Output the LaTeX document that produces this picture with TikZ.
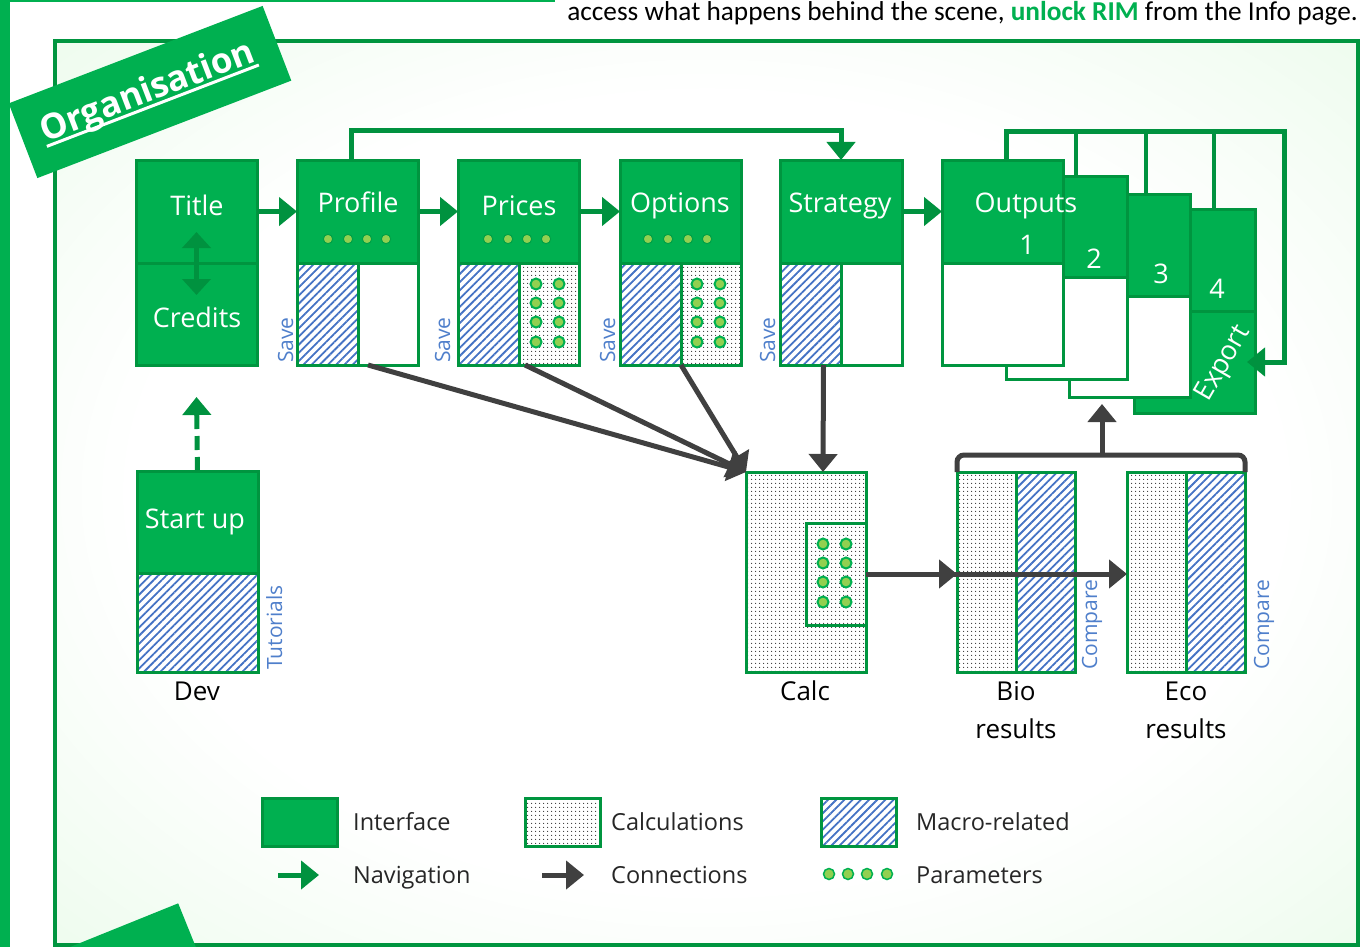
\documentclass[tikz,border=0pt]{standalone}
\usepackage{fontspec}
\setmainfont{Open Sans}
\newfontfamily\calib{Carlito}
\usetikzlibrary{arrows.meta,patterns.meta,calc}
\definecolor{gfill}{HTML}{00B050}
\definecolor{gline}{HTML}{00953F}
\definecolor{garrow}{HTML}{00923F}
\definecolor{cgray}{HTML}{404040}
\definecolor{hblue}{HTML}{4472C4}
\definecolor{tblue}{HTML}{4F7FCB}
\definecolor{pdot}{HTML}{92D050}
\definecolor{bgg}{HTML}{CCF5CC}
\definecolor{bgm}{HTML}{E6FAE6}
\definecolor{ltxt}{HTML}{262626}
\pgfdeclareradialshading{bgshade}{\pgfpoint{0bp}{0bp}}{color(0bp)=(white); color(22bp)=(white); color(42bp)=(bgm); color(58bp)=(bgg); color(75bp)=(bgg)}
\newcommand\myul[1]{\setbox0\hbox{#1}\rlap{\rule[-6pt]{\wd0}{3pt}}\box0}
\begin{document}
\begin{tikzpicture}[x=1pt,y=-1pt,
  bx/.style n args={4}{at={(#1,#2)},anchor=north west,minimum width={#3-#1},minimum height={#4-#2},inner sep=0pt,outer sep=0pt},
  gbox/.style={draw=gline,line width=3pt,fill=gfill},
  wbox/.style={draw=gline,line width=3pt,fill=white},
  hbox/.style={draw=gline,line width=3pt,preaction={fill=white},pattern={Lines[angle=45,distance=5.8pt,line width=1.8pt]},pattern color=hblue},
  dbox/.style={draw=gline,line width=3pt,preaction={fill=white},pattern={Dots[distance=4pt,radius=0.75pt]},pattern color=black!80},
  wlab/.style={text=white,font=\fontsize{27}{32}\selectfont,inner sep=0pt,anchor=base},
  blab/.style={text=black,font=\fontsize{26}{32}\selectfont,inner sep=0pt,anchor=base},
  vlab/.style={text=tblue,font=\fontsize{21}{24}\selectfont,inner sep=0pt,rotate=90,anchor=base west},
  legt/.style={text=ltxt,font=\fontsize{23.5}{28}\selectfont,inner sep=0pt,anchor=base west},
  nav/.style={draw=garrow,line width=5pt,-{Triangle[length=18pt,width=28pt]}},
  dnav/.style={draw=garrow,line width=5pt,{Triangle[length=16pt,width=28pt]}-{Triangle[length=16pt,width=28pt]}},
  dashnav/.style={nav,dash pattern=on 14pt off 7pt},
  navline/.style={draw=garrow,line width=4.5pt},
  conn/.style={draw=cgray,line width=5pt,-{Triangle[length=18pt,width=28pt]}},
  pd/.style={fill=pdot,draw=gline!60!gfill,line width=1pt},
  pdg/.style={fill=pdot,draw=gfill,line width=2pt}]
\clip (0,0) rectangle (1362,947);
\fill[white] (0,0) rectangle (1362,947);
% outer frame
\fill[gfill] (0,0) rectangle (10,947);
\fill[gfill] (0,0) rectangle (555,2.5);
\node[anchor=base east,inner sep=0pt,font=\calib\fontsize{27.3}{30}\selectfont] (toptext) at (1358,21)
  {access what happens behind the scene, {\bfseries\color{gfill}unlock RIM} from the Info page.};
% inner panel
\shadedraw[shading=bgshade,draw=gline,line width=4pt] (55,41) rectangle (1358,945);
% banners
\node[fill=gfill,rotate=21,minimum width=272,minimum height=80,inner sep=0pt] (orgban) at (150,92) {};
\node[rotate=21,text=white,inner sep=0pt,font=\bfseries\fontsize{35}{38}\selectfont] (orgtxt) at (148,93) {\myul{Organisation}};
\node[fill=gfill,rotate=22,minimum width=270,minimum height=80,inner sep=0pt] (ban2) at (68,991) {};
% Title / Credits
\node[gbox,bx={136}{160}{257}{263}] (title) {};
\node[gbox,bx={136}{263}{257}{365}] (credits) {};
% Profile
\node[gbox,bx={297}{160}{418}{263}] (prof) {};
\node[hbox,bx={297}{263}{358}{365}] (profh) {};
\node[wbox,bx={358}{263}{418}{365}] (profw) {};
% Prices
\node[gbox,bx={458}{160}{579}{263}] (pric) {};
\node[hbox,bx={458}{263}{519}{365}] (prich) {};
\node[dbox,bx={519}{263}{579}{365}] (pricd) {};
% Options
\node[gbox,bx={620}{160}{741}{263}] (opt) {};
\node[hbox,bx={620}{263}{681}{365}] (opth) {};
\node[dbox,bx={681}{263}{741}{365}] (optd) {};
% Strategy
\node[gbox,bx={780}{160}{902}{263}] (strat) {};
\node[hbox,bx={780}{263}{841}{365}] (strath) {};
\node[wbox,bx={841}{263}{902}{365}] (stratw) {};
% Outputs pages
\node[gbox,bx={1134}{209}{1255}{311}] (p4t) {};
\node[gbox,bx={1134}{311}{1255}{413}] (p4b) {};
\node[gbox,bx={1069}{194}{1190}{296}] (p3t) {};
\node[wbox,bx={1069}{296}{1190}{397}] (p3b) {};
\node[gbox,bx={1006}{176}{1127}{277}] (p2t) {};
\node[wbox,bx={1006}{277}{1127}{379}] (p2b) {};
\node[gbox,bx={942}{160}{1063}{263}] (p1t) {};
\node[wbox,bx={942}{263}{1063}{365}] (p1b) {};
% Dev
\node[gbox,bx={137}{471}{258}{573}] (startup) {};
\node[hbox,bx={137}{573}{258}{672}] (starth) {};
% Calc
\node[dbox,bx={746}{472}{866}{672}] (calc) {};
\node[dbox,bx={806}{523}{866}{625}] (calcin) {};
% Bio / Eco
\node[dbox,bx={957}{472}{1016}{672}] (biod) {};
\node[hbox,bx={1016}{472}{1075}{672}] (bioh) {};
\node[dbox,bx={1127}{472}{1186}{672}] (ecod) {};
\node[hbox,bx={1186}{472}{1245}{672}] (ecoh) {};
% parameter dots
\foreach \x in {328,348,367,386,488,508,527,546,648,668,688,707} \draw[pd] (\x,239) circle[radius=4.7pt];
\foreach \x in {536,559,697,720} \foreach \y in {284,303,322,342} \draw[pdg] (\x,\y) circle[radius=5.5pt];
\foreach \x in {823,846} \foreach \y in {544,563,582,602} \draw[pdg] (\x,\y) circle[radius=5.5pt];
% navigation
\draw[nav] (title.east) -- (prof.west);
\draw[nav] (prof.east) -- (pric.west);
\draw[nav] (pric.east) -- (opt.west);
\draw[nav] (strat.east) -- (p1t.west);
\coordinate (pst) at (600,131);
\draw[nav] ([xshift=-6pt]prof.north) |- (pst) -| (strat.north);
\draw[dnav] ([yshift=31pt]title.south) -- ([yshift=-32pt]title.south);
\draw[dashnav] (startup.north) -- ([yshift=-32pt]credits.south);
\coordinate (ofl) at (1006,132);
\coordinate (ofr) at (1284,132);
\coordinate (d2) at (1076,132);
\coordinate (d3) at (1146,132);
\coordinate (d4) at (1214,132);
\draw[navline] (d2) -- (d2 |- p2t.north);
\draw[navline] (d3) -- (d3 |- p3t.north);
\draw[navline] (d4) -- (d4 |- p4t.north);
\draw[nav] (ofl |- p1t.north) -- (ofl) -- (ofr) |- ([xshift=-8pt]p4b.east);
% connections
\draw[conn] ([xshift=10pt]profw.south west) -- (calc.north west);
\draw[conn] ([xshift=6pt]pricd.south west) -- (calc.north west);
\draw[conn] (optd.south west) -- (calc.north west);
\draw[conn] ([xshift=13pt]strath.south) -- ([xshift=17pt]calc.north);
\draw[conn] (calcin.east) -- (calcin.east -| ecod.west);
\draw[conn] (calcin.east) -- (calcin.east -| biod.west);
\coordinate (brl) at (957,455);
\coordinate (brr) at (1245,455);
\coordinate (brm) at (1102,455);
\coordinate (brtip) at (1102,404);
\draw[draw=cgray,line width=5pt,rounded corners=7pt] (biod.north west) -- (brl) -- (brr) -- (ecoh.north east);
\draw[conn] (brm) -- (brtip);
% white labels
\node[wlab] (ttitle) at (197,215) {Title};
\node[wlab] (tcred) at (197,327) {Credits};
\node[wlab] (tprof) at (358,212) {Profile};
\node[wlab] (tpric) at (519,215) {Prices};
\node[wlab] (topt) at (680,212) {Options};
\node[wlab] (tstrat) at (840,212) {Strategy};
\node[wlab] (tout) at (1026,212) {Outputs};
\node[wlab] (t1) at (1027,254) {1};
\node[wlab] (t2) at (1094,268) {2};
\node[wlab] (t3) at (1161,283) {3};
\node[wlab] (t4) at (1217,298) {4};
\node[wlab,anchor=center,rotate=60] (texp) at (1224,364) {Export};
\node[wlab] (tstart) at (195,528) {Start up};
% black labels
\node[blab] (ldev) at (197,700) {Dev};
\node[blab] (lcalc) at (805,700) {Calc};
\node[blab] (lbio) at (1016,700) {Bio};
\node[blab] (lbio2) at (1016,738) {results};
\node[blab] (leco) at (1186,700) {Eco};
\node[blab] (leco2) at (1186,738) {results};
% blue vertical labels
\node[vlab] (s1) at (293,363) {Save};
\node[vlab] (s2) at (450,363) {Save};
\node[vlab] (s3) at (615,363) {Save};
\node[vlab] (s4) at (775,363) {Save};
\node[vlab] (tut) at (282,670) {Tutorials};
\node[vlab] (cmp1) at (1097,670) {Compare};
\node[vlab] (cmp2) at (1269,670) {Compare};
% legend
\node[gbox,bx={262}{798}{337}{846}] (lg1) {};
\node[dbox,bx={525}{798}{600}{846}] (lg2) {};
\node[hbox,bx={821}{798}{896}{846}] (lg3) {};
\node[legt] (lt1) at (353,830) {Interface};
\node[legt] (lt2) at (611,830) {Calculations};
\node[legt] (lt3) at (916,830) {Macro-related};
\node[legt] (lt4) at (353,883) {Navigation};
\node[legt] (lt5) at (611,883) {Connections};
\node[legt] (lt6) at (916,883) {Parameters};
\coordinate (ln1) at (278,875);
\coordinate (ln2) at (319,875);
\coordinate (lc1) at (542,875);
\coordinate (lc2) at (584,875);
\draw[nav] (ln1) -- (ln2);
\draw[conn] (lc1) -- (lc2);
\foreach \x in {829,848,867,887} \draw[fill=pdot,draw=gfill,line width=1.5pt] (\x,874) circle[radius=5.5pt];
\end{tikzpicture}
\end{document}
